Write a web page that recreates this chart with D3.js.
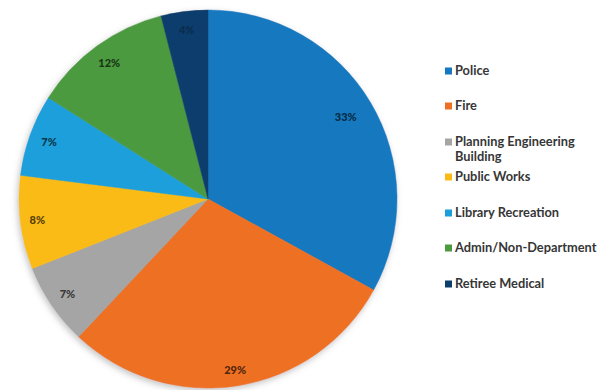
<!DOCTYPE html>
<html>
<head>
<meta charset="utf-8">
<script src="https://cdn.jsdelivr.net/npm/d3@7"></script>
<style>
  html, body { margin: 0; padding: 0; background: #ffffff; }
  svg { display: block; }
</style>
</head>
<body>
<svg id="chart" width="602" height="390"></svg>
<script>
// Budget share by department
const departments = ["Police", "Fire", "Planning Engineering Building", "Public Works",
                     "Library Recreation", "Admin/Non-Department", "Retiree Medical"];
const shares = [33, 29, 7, 8, 7, 12, 4];
const valueLabels = ["33%", "29%", "7%", "8%", "7%", "12%", "4%"];
const legendLines = [["Police"], ["Fire"], ["Planning Engineering", "Building"], ["Public Works"],
                     ["Library Recreation"], ["Admin/Non-Department"], ["Retiree Medical"]];
const colors = ["#1479c0", "#ee7024", "#a5a5a5", "#fbbb16", "#1b9fda", "#4c9a40", "#0d3e6c"];

// Layout
const cx = 208, cy = 199, radius = 189;
// distance of each value label from the centre (inside-end placement)
const labelRadius = [160, 173, 170, 172, 169, 168, 170];

const svg = d3.select("#chart");

const defs = svg.append("defs");
const shadow = defs.append("filter").attr("id", "pieShadow")
  .attr("x", "-10%").attr("y", "-10%").attr("width", "120%").attr("height", "120%");
shadow.append("feDropShadow")
  .attr("dx", -1.5).attr("dy", 2.5).attr("stdDeviation", 3)
  .attr("flood-color", "#7a7a7a").attr("flood-opacity", 0.45);

const pie = d3.pie().sort(null).value(d => d)(shares);
const arc = d3.arc().innerRadius(0).outerRadius(radius);

const g = svg.append("g").attr("transform", `translate(${cx},${cy})`);

g.append("g").attr("filter", "url(#pieShadow)")
  .selectAll("path")
  .data(pie)
  .join("path")
  .attr("d", arc)
  .attr("fill", (d, i) => colors[i])
  .attr("stroke", (d, i) => colors[i])
  .attr("stroke-width", 0.5);

g.selectAll("text.value")
  .data(pie)
  .join("text")
  .attr("class", "value")
  .attr("transform", (d, i) => {
    const a = (d.startAngle + d.endAngle) / 2;
    const r = labelRadius[i];
    return `translate(${r * Math.sin(a)},${-r * Math.cos(a)})`;
  })
  .attr("text-anchor", "middle")
  .attr("dy", "0.35em")
  .attr("font-family", "Lato, 'Open Sans', sans-serif")
  .attr("font-weight", 900)
  .attr("font-size", 11)
  .attr("fill", (d, i) => i === 6 ? "#0a2c4d" : d3.color(colors[i]).darker(3).formatHex())
  .text((d, i) => valueLabels[i]);

// Legend
const legendY = [71, 106, 142, 177, 213, 248, 284];
const legend = svg.append("g").attr("transform", "translate(445,0)");
const items = legend.selectAll("g.item")
  .data(departments)
  .join("g")
  .attr("class", "item")
  .attr("transform", (d, i) => `translate(0,${legendY[i]})`);

items.append("rect")
  .attr("x", 0).attr("y", -3.5)
  .attr("width", 7).attr("height", 7)
  .attr("fill", (d, i) => colors[i]);

items.each(function(d, i) {
  const t = d3.select(this).append("text")
    .attr("x", 10)
    .attr("font-family", "Lato, 'Open Sans', sans-serif")
    .attr("font-weight", 700)
    .attr("font-size", 12.8)
    .attr("fill", "#363636");
  legendLines[i].forEach((line, k) => {
    t.append("tspan").attr("x", 10).attr("dy", k === 0 ? "0.35em" : 15).text(line);
  });
});
</script>
</body>
</html>
